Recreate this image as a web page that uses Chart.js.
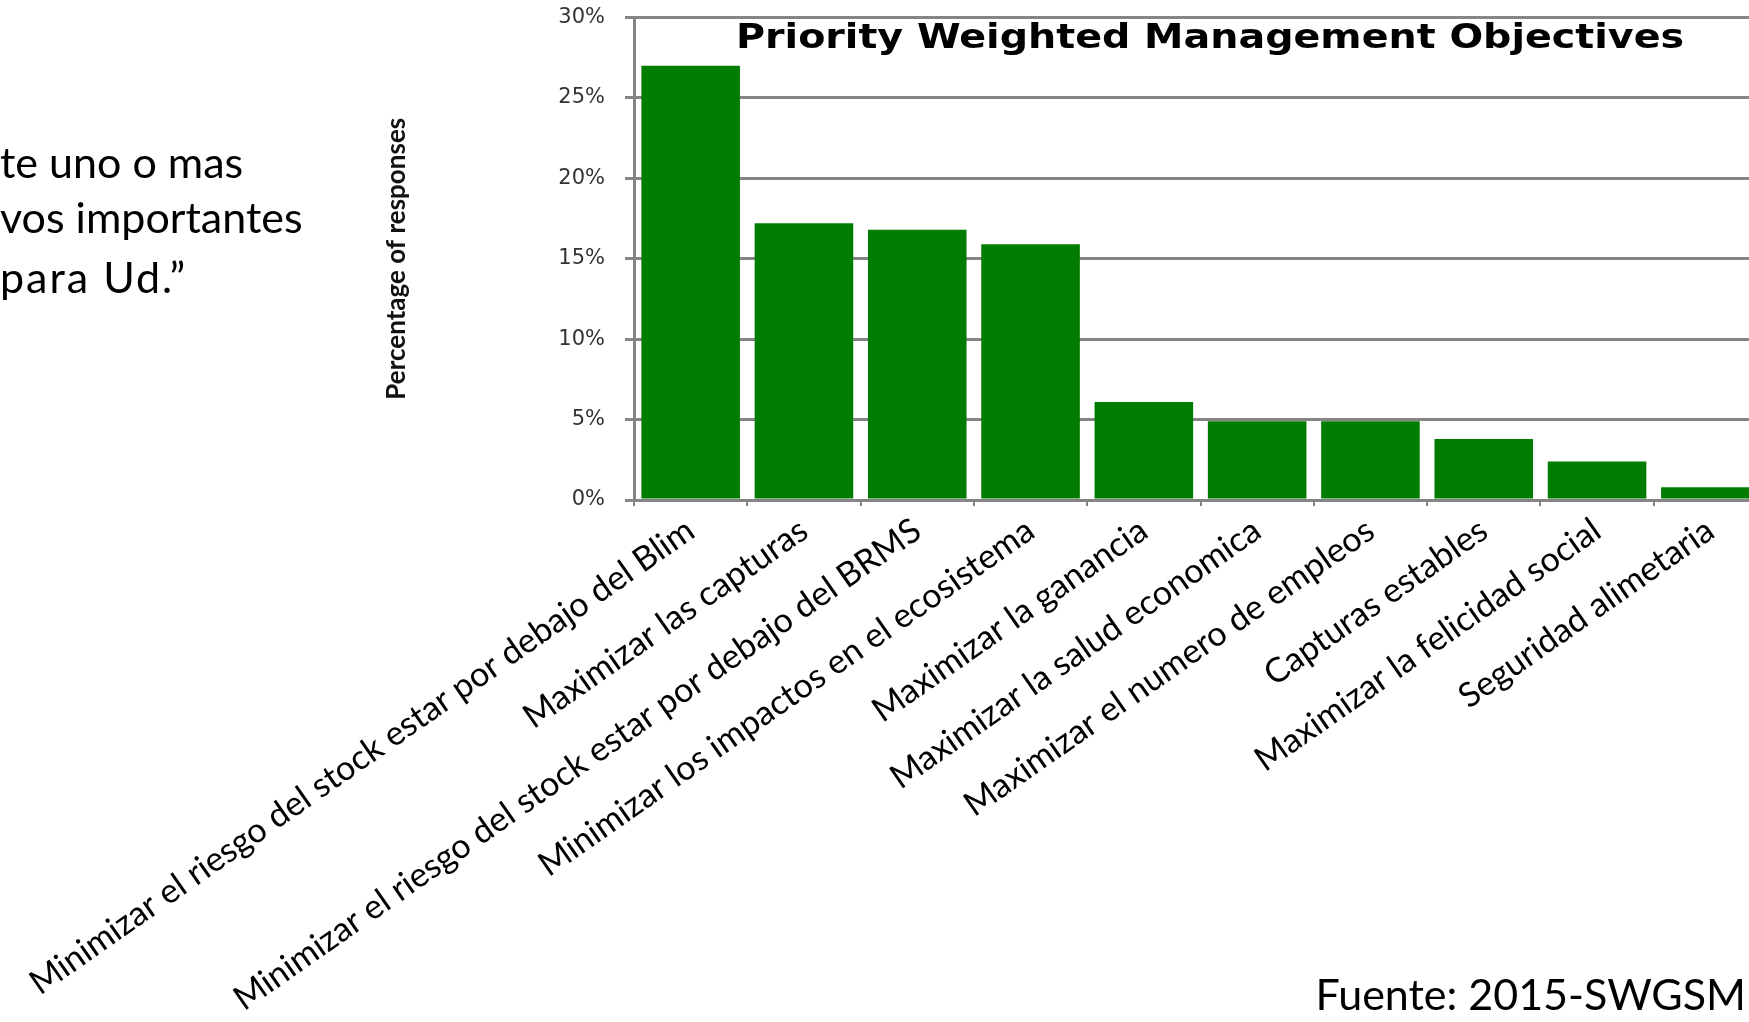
<!DOCTYPE html>
<html>
<head>
<meta charset="utf-8">
<script src="https://cdn.jsdelivr.net/npm/chart.js@4/dist/chart.umd.min.js"></script>
<style>
  html, body { margin:0; padding:0; width:1749px; height:1022px; overflow:hidden; background:#ffffff; }
  #wrap { position:absolute; left:0; top:0; width:1800px; height:1022px; }
  .slide { position:absolute; font-family: Lato, "Open Sans", sans-serif; font-size:43px; line-height:43px; color:#000; white-space:nowrap; }
  #ctitle { position:absolute; left:736px; top:20px; font-family:"DejaVu Sans", sans-serif; font-weight:bold; font-size:33px; line-height:33px; color:#000; white-space:nowrap; transform:scaleX(1.2); transform-origin:left top; }
</style>
</head>
<body>
<div id="wrap"><canvas id="c" width="1800" height="1022" style="width:1800px;height:1022px"></canvas></div>
<div id="ctitle">Priority Weighted Management Objectives</div>
<div class="slide" style="left:0px;top:140px">te uno o mas</div>
<div class="slide" style="left:0px;top:195px">vos importantes</div>
<div class="slide" style="left:0px;top:255px;letter-spacing:2px">para Ud.”</div>
<div class="slide" style="right:3px;top:972px">Fuente: 2015-SWGSM</div>
<script>
const categories = [
  "Minimizar el riesgo del stock estar por debajo del Blim",
  "Maximizar las capturas",
  "Minimizar el riesgo del stock estar por debajo del BRMS",
  "Minimizar los impactos en el ecosistema",
  "Maximizar la ganancia",
  "Maximizar la salud economica",
  "Maximizar el numero de empleos",
  "Capturas estables",
  "Maximizar la felicidad social",
  "Seguridad alimetaria"
];
const percentages = [27.0, 17.2, 16.8, 15.9, 6.1, 4.9, 4.9, 3.8, 2.4, 0.8];
const yTickValues = [0, 5, 10, 15, 20, 25, 30];
const yTickLabels = ["0%", "5%", "10%", "15%", "20%", "25%", "30%"];
const yAxisTitle = "Percentage of responses";

const GRID = "#858585";

new Chart(document.getElementById("c"), {
  type: "bar",
  data: {
    labels: categories,
    datasets: [{
      data: percentages,
      backgroundColor: "#007c00",
      borderWidth: 0,
      categoryPercentage: 1.0,
      barPercentage: 0.87
    }]
  },
  options: {
    responsive: false,
    animation: false,
    layout: { padding: { left: 0, top: 17.5, right: 33, bottom: 0 } },
    plugins: { legend: { display: false }, tooltip: { enabled: false }, title: { display: false } },
    scales: {
      x: {
        grid: { display: true, drawOnChartArea: false, drawTicks: true, tickLength: 6, color: GRID, lineWidth: 2, offset: true },
        border: { display: true, color: GRID, width: 3 },
        ticks: {
          autoSkip: false, minRotation: 35, maxRotation: 35, padding: 4,
          color: "#000",
          font: { family: "Lato, 'Open Sans', sans-serif", size: 34 }
        },
        afterFit(scale) {
          scale.height = 522;
          scale.paddingLeft = 0; scale.paddingRight = 0; scale.paddingTop = 0; scale.paddingBottom = 0;
        }
      },
      y: {
        min: 0, max: 30,
        afterBuildTicks(scale) { scale.ticks = yTickValues.map(v => ({ value: v })); },
        grid: { color: GRID, lineWidth: 3, drawTicks: true, tickLength: 9 },
        border: { display: true, color: GRID, width: 3 },
        ticks: {
          padding: 20,
          color: "#333",
          font: { family: "'DejaVu Sans', sans-serif", size: 21 },
          callback: (v) => yTickLabels[yTickValues.indexOf(v)]
        },
        title: {
          display: true,
          text: yAxisTitle,
          color: "#111",
          font: { family: "Lato, 'Open Sans', sans-serif", size: 26, weight: "bold" },
          padding: { top: 381, bottom: 0 }
        },
        afterFit(scale) {
          scale.width = 634;
          scale.paddingLeft = 0; scale.paddingRight = 0; scale.paddingTop = 0; scale.paddingBottom = 0;
        }
      }
    }
  }
});
</script>
</body>
</html>
